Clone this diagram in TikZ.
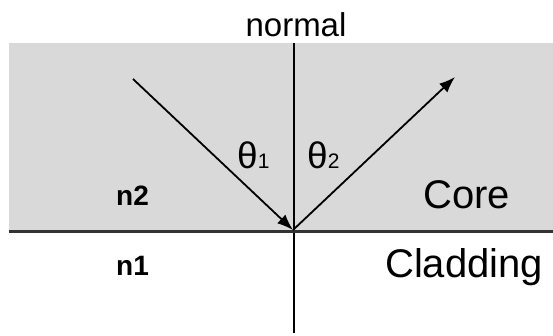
\documentclass[tikz,border=0pt]{standalone}
\usepackage{fontspec}
\setmainfont{Liberation Sans}
\usetikzlibrary{arrows.meta}
\usetikzlibrary{positioning}
\definecolor{coregray}{HTML}{D9D9D9}
\definecolor{edgegray}{HTML}{333333}

\begin{document}
\begin{tikzpicture}[x=1pt, y=-1pt]
\tikzset{RayStyle/.style = {-{Latex[length=16pt, width=12pt]}, line width=1.8pt}}
\tikzset{TextStyle/.style = {inner sep=0pt, font=\fontsize{40}{40}\selectfont}}
\tikzset{IndexStyle/.style = {inner sep=0pt, font=\bfseries\fontsize{28}{28}\selectfont}}
\tikzset{AngleStyle/.style = {inner sep=0pt, font=\fontsize{37}{37}\selectfont}}
  \useasboundingbox (0,0) rectangle (553,335);
  % core region
  \fill[coregray] (9,43) rectangle (553,231);
  \coordinate (ntop) at (294,43);
  \coordinate (nbot) at (294,333);
  \coordinate (left) at (9,231);
  \coordinate (right) at (553,231);
  \coordinate (src) at (133,79);
  \coordinate (hit) at (293,230);
  \coordinate (tip) at (455,77);
  
  \draw[line width=1.4pt] (ntop) -- (nbot);
  \draw[line width=3pt, edgegray] (left) -- (right);
  \draw[RayStyle] (src) -- (hit);
  \draw[RayStyle] (hit) -- (tip);
  
  \node[TextStyle, font=\fontsize{33}{33}\selectfont, anchor=base] (normal) at (296,36) {normal};
  \node[AngleStyle, anchor=base west] (t1) at (237,168) {θ{\fontsize{21}{21}\selectfont 1}};
  \node[AngleStyle, anchor=base west] (t2) at (307,168) {θ{\fontsize{21}{21}\selectfont 2}};
  \node[TextStyle, anchor=base west] (core) at (423,208) {Core};
  \node[TextStyle, anchor=base west] (clad) at (385,277) {Cladding};
  \node[IndexStyle, anchor=base west] (n2) at (116,205) {n2};
  \node[IndexStyle, anchor=base west] (n1) at (116,275) {n1};
\end{tikzpicture}
\end{document}
